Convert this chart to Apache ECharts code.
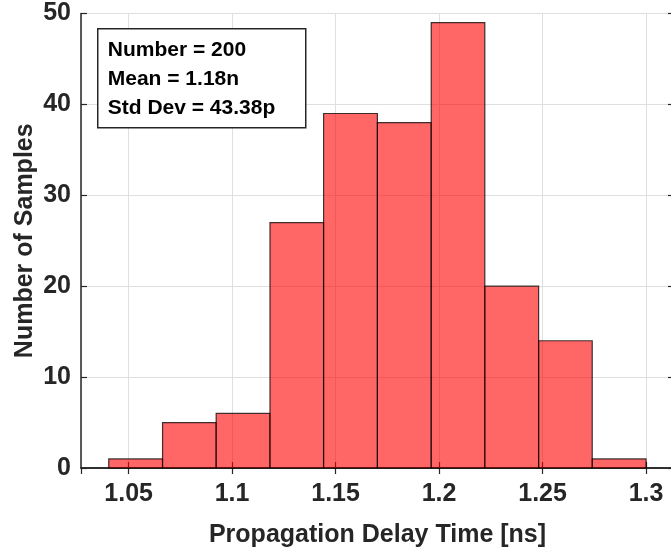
<!DOCTYPE html>
<html>
<head>
<meta charset="utf-8">
<script src="https://cdn.jsdelivr.net/npm/echarts@6/dist/echarts.min.js"></script>
<style>
  html, body { margin: 0; padding: 0; background: #fff; }
  #chart { width: 671px; height: 548px; }
</style>
</head>
<body>
<div id="chart"></div>
<script>
// histogram bin edges [ns] and counts
const binEdges = [1.0404, 1.0664, 1.0923, 1.1183, 1.1442, 1.1702, 1.1962, 1.2221, 1.2481, 1.2740, 1.3000]
const counts = [1, 5, 6, 27, 39, 38, 49, 20, 14, 1]
const statLines = ['Number = 200', 'Mean = 1.18n', 'Std Dev = 43.38p']

const bins = counts.map((c, i) => [binEdges[i], binEdges[i + 1], c])

const axisColor = '#262626'
const font = "'Liberation Sans', Arial, sans-serif"

const chart = echarts.init(document.getElementById('chart'))

const tickStyle = { inside: true, length: 6, lineStyle: { color: axisColor, width: 1.2 } }

chart.setOption({
  animation: false,
  grid: { left: 81, right: -3, top: 13.5, bottom: 80, containLabel: false, outerBoundsMode: 'none' },
  xAxis: [{
    type: 'value',
    min: 1.027,
    max: 1.3135,
    splitNumber: 5,
    axisLine: { show: true, onZero: false, lineStyle: { color: axisColor, width: 1.5 } },
    axisTick: tickStyle,
    axisLabel: {
      showMinLabel: false, showMaxLabel: false,
      color: axisColor, fontFamily: font, fontWeight: 'bold', fontSize: 25, margin: 14
    },
    splitLine: { show: true, lineStyle: { color: '#dfdfdf', width: 1 } },
    name: 'Propagation Delay Time [ns]',
    nameLocation: 'middle',
    nameGap: 55,
    nameTextStyle: { color: axisColor, fontFamily: font, fontWeight: 'bold', fontSize: 25 }
  }, {
    type: 'value',
    position: 'top',
    min: 1.027,
    max: 1.3135,
    splitNumber: 5,
    axisLine: { show: true, lineStyle: { color: axisColor, width: 1.5 } },
    axisTick: tickStyle,
    axisLabel: { show: false },
    splitLine: { show: false }
  }],
  yAxis: [{
    type: 'value',
    min: 0,
    max: 50,
    interval: 10,
    axisLine: { show: true, onZero: false, lineStyle: { color: axisColor, width: 1.5 } },
    axisTick: { show: true, ...tickStyle },
    axisLabel: { color: axisColor, fontFamily: font, fontWeight: 'bold', fontSize: 25, margin: 10 },
    splitLine: { show: true, lineStyle: { color: '#dfdfdf', width: 1 } },
    name: 'Number of Samples',
    nameLocation: 'middle',
    nameGap: 43,
    nameMoveOverlap: false,
    nameTextStyle: { color: axisColor, fontFamily: font, fontWeight: 'bold', fontSize: 25 }
  }, {
    type: 'value',
    position: 'right',
    min: 0,
    max: 50,
    interval: 10,
    axisLine: { show: true, lineStyle: { color: axisColor, width: 1.5 } },
    axisTick: { show: true, ...tickStyle },
    axisLabel: { show: false },
    splitLine: { show: false }
  }],
  series: [{
    type: 'custom',
    xAxisIndex: 0,
    yAxisIndex: 0,
    data: bins,
    renderItem (params, api) {
      const p0 = api.coord([api.value(0), api.value(2)])
      const p1 = api.coord([api.value(1), 0])
      return {
        type: 'rect',
        shape: { x: p0[0], y: p0[1], width: p1[0] - p0[0], height: p1[1] - p0[1] },
        style: { fill: 'rgba(255, 0, 0, 0.6)', stroke: 'rgba(0, 0, 0, 0.75)', lineWidth: 1.2 }
      }
    }
  }],
  graphic: [{
    type: 'group',
    left: 97,
    top: 28,
    z: 100,
    children: [{
      type: 'rect',
      z: 100,
      shape: { x: 0, y: 0, width: 208, height: 99 },
      style: { fill: '#fff', stroke: axisColor, lineWidth: 1.5 }
    }].concat(statLines.map((t, i) => ({
      type: 'text',
      z: 101,
      x: 10,
      y: 21 + i * 29,
      style: {
        text: t, fill: '#000', font: 'bold 21px ' + font,
        verticalAlign: 'middle'
      }
    })))
  }]
})
</script>
</body>
</html>
